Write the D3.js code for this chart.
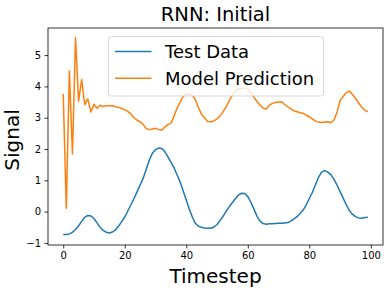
<!DOCTYPE html>
<html><head><meta charset="utf-8">
<script src="https://cdn.jsdelivr.net/npm/d3@7"></script>
<style>body{margin:0;background:#fff}svg{display:block}</style>
</head><body>
<script>
const testData = [-0.73,-0.73,-0.71,-0.66,-0.57,-0.45,-0.31,-0.18,-0.12,-0.14,
-0.22,-0.36,-0.50,-0.60,-0.66,-0.68,-0.65,-0.58,-0.46,-0.32,
-0.17,0.02,0.22,0.42,0.63,0.85,1.07,1.36,1.65,1.87,
1.98,2.03,2.02,1.92,1.76,1.58,1.40,1.18,0.95,0.66,
0.37,0.08,-0.18,-0.38,-0.47,-0.50,-0.52,-0.53,-0.53,-0.49,
-0.41,-0.28,-0.14,0.02,0.16,0.29,0.42,0.53,0.59,0.58,
0.48,0.30,0.08,-0.15,-0.30,-0.38,-0.40,-0.39,-0.39,-0.38,
-0.37,-0.37,-0.36,-0.35,-0.30,-0.23,-0.16,-0.06,0.05,0.22,
0.42,0.62,0.86,1.10,1.26,1.31,1.26,1.18,1.04,0.85,
0.64,0.43,0.22,0.04,-0.08,-0.16,-0.20,-0.21,-0.19,-0.18];
const modelPrediction = [3.76,0.11,4.49,1.84,5.56,3.53,4.22,3.42,3.60,3.18,
3.43,3.30,3.40,3.36,3.38,3.38,3.38,3.35,3.33,3.30,
3.25,3.20,3.12,3.00,2.92,2.87,2.78,2.65,2.62,2.64,
2.66,2.62,2.60,2.70,2.78,2.82,3.05,3.30,3.50,3.68,
3.75,3.76,3.72,3.56,3.32,3.10,2.98,2.88,2.87,2.90,
2.96,3.06,3.20,3.35,3.55,3.72,3.86,3.92,3.94,3.94,
3.91,3.80,3.65,3.52,3.40,3.30,3.28,3.40,3.46,3.49,
3.50,3.51,3.42,3.35,3.28,3.22,3.19,3.16,3.14,3.08,
3.03,2.96,2.89,2.86,2.85,2.86,2.87,2.84,2.92,3.17,
3.55,3.68,3.80,3.85,3.74,3.62,3.47,3.34,3.24,3.19];
const xTicks = [0,20,40,60,80,100];
const yTicks = [-1,0,1,2,3,4,5];
const seriesNames = ["Test Data","Model Prediction"];
const colors = ["#1f77b4","#ff7f0e"];
const titleText = "RNN: Initial";
const xLabel = "Timestep", yLabel = "Signal";

const W = 391, H = 289;
const m = {left:48, right:383, top:28, bottom:245};
const svg = d3.select("body").append("svg").attr("width",W).attr("height",H)
  .style("font-family","DejaVu Sans, sans-serif");

const x = d3.scaleLinear().domain([-4.95,103.95]).range([m.left,m.right]);
const y = d3.scaleLinear().domain([-1.065,5.865]).range([m.bottom,m.top]);

const xAxis = svg.append("g").attr("transform",`translate(0,${m.bottom})`)
  .call(d3.axisBottom(x).tickValues(xTicks).tickSize(3.5).tickPadding(3.5).tickFormat(d3.format("d")));
const yAxis = svg.append("g").attr("transform",`translate(${m.left},0)`)
  .call(d3.axisLeft(y).tickValues(yTicks).tickSize(3.5).tickPadding(3.5)
    .tickFormat(d => d < 0 ? "\u2212" + Math.abs(d) : d));
[xAxis,yAxis].forEach(a=>{
  a.select(".domain").remove();
  a.selectAll("line").attr("stroke","#000").attr("stroke-width",0.8);
  a.selectAll("text").attr("fill","#000").style("font-size","10px").style("font-family","DejaVu Sans, sans-serif");
});

const line = d3.line().x((d,i)=>x(i)).y(d=>y(d));
const seriesData = [testData, modelPrediction];
seriesData.forEach((s,k)=>{
  svg.append("path").datum(s).attr("d",line).attr("fill","none")
    .attr("stroke",colors[k]).attr("stroke-width",1.5).attr("stroke-linejoin","round");
});

svg.append("rect").attr("x",m.left).attr("y",m.top).attr("width",m.right-m.left).attr("height",m.bottom-m.top)
  .attr("fill","none").attr("stroke","#000").attr("stroke-width",0.8);

// legend
const lg = svg.append("g");
lg.append("rect").attr("x",108.5).attr("y",36.5).attr("width",215).attr("height",59.5)
  .attr("rx",3).attr("fill","#fff").attr("fill-opacity",0.8).attr("stroke","#cccccc").attr("stroke-width",0.8);
seriesNames.forEach((n,k)=>{
  const cy = 51.5 + k*26.7;
  lg.append("line").attr("x1",115).attr("x2",151.5).attr("y1",cy).attr("y2",cy)
    .attr("stroke",colors[k]).attr("stroke-width",1.5);
  lg.append("text").attr("x",165).attr("y",cy).attr("dy","0.35em").text(n)
    .style("font-size","18px").attr("fill","#000");
});

svg.append("text").attr("x",(m.left+m.right)/2).attr("y",21).attr("text-anchor","middle")
  .style("font-size","19.5px").text(titleText);
svg.append("text").attr("x",(m.left+m.right)/2).attr("y",283).attr("text-anchor","middle")
  .style("font-size","20px").text(xLabel);
svg.append("text").attr("transform",`translate(19,140) rotate(-90)`).attr("text-anchor","middle")
  .style("font-size","20px").text(yLabel);
</script>
</body></html>
